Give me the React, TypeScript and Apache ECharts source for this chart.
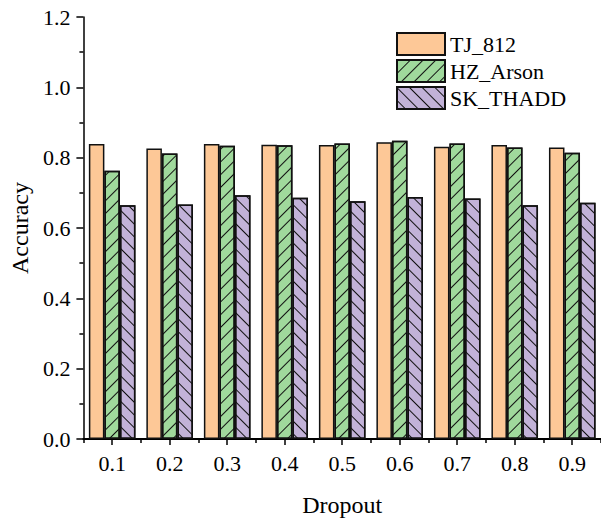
import React, { useEffect, useRef } from "react";
import * as echarts from "echarts";

const categories = ["0.1", "0.2", "0.3", "0.4", "0.5", "0.6", "0.7", "0.8", "0.9"];
const tjValues = [0.839, 0.826, 0.839, 0.837, 0.836, 0.844, 0.831, 0.836, 0.829];
const hzValues = [0.763, 0.812, 0.834, 0.835, 0.840, 0.848, 0.840, 0.829, 0.814];
const skValues = [0.665, 0.667, 0.693, 0.686, 0.676, 0.688, 0.684, 0.665, 0.672];
const seriesNames = ["TJ_812", "HZ_Arson", "SK_THADD"];

const FONT = "Liberation Serif";

export default function App() {
  const ref = useRef<HTMLDivElement>(null);
  useEffect(() => {
    if (!ref.current) return;
    const chart = echarts.init(ref.current, null, { renderer: "svg" });
    const border = { borderColor: "#111", borderWidth: 1.5 };
    chart.setOption({
      animation: false,
      backgroundColor: "#fff",
      textStyle: { fontFamily: FONT, color: "#000" },
      legend: {
        orient: "vertical",
        left: 391,
        top: 27,
        icon: "rect",
        itemWidth: 48,
        itemHeight: 22,
        itemGap: 3,
        textStyle: { fontFamily: FONT, fontSize: 22, color: "#000" },
        data: seriesNames,
      },
      grid: { left: 80, top: 17, width: 523, height: 425, containLabel: false },
      xAxis: [
        {
          type: "category",
          data: categories,
          name: "Dropout",
          nameLocation: "middle",
          nameGap: 54,
          nameTextStyle: { fontFamily: FONT, fontSize: 24, color: "#000" },
          axisLine: { show: true, lineStyle: { color: "#000", width: 2 } },
          axisTick: { show: true, alignWithLabel: true, length: 6, lineStyle: { color: "#000", width: 1.5 } },
          axisLabel: { fontFamily: FONT, fontSize: 22, color: "#000", margin: 13 },
          splitLine: { show: false },
        },
        {
          type: "category",
          data: categories,
          position: "bottom",
          axisLine: { show: false },
          axisTick: { show: true, alignWithLabel: false, length: 4, lineStyle: { color: "#000", width: 1.5 } },
          axisLabel: { show: false },
          splitLine: { show: false },
        },
      ],
      yAxis: {
        type: "value",
        min: 0,
        max: 1.2,
        interval: 0.2,
        name: "Accuracy",
        nameLocation: "middle",
        nameGap: 50,
        nameTextStyle: { fontFamily: FONT, fontSize: 24, color: "#000" },
        axisLine: { show: true, lineStyle: { color: "#000", width: 1.5 } },
        axisTick: { show: true, length: 7, lineStyle: { color: "#000", width: 1.5 } },
        minorTick: { show: true, splitNumber: 2, length: 4, lineStyle: { color: "#000", width: 1.5 } },
        axisLabel: {
          fontFamily: FONT,
          fontSize: 22,
          color: "#000",
          margin: 13,
          formatter: (v: number) => v.toFixed(1),
        },
        splitLine: { show: false },
      },
      series: [
        {
          name: seriesNames[0],
          type: "bar",
          data: tjValues,
          barGap: "0%",
          barCategoryGap: "19%",
          itemStyle: { color: "#FDC897", ...border },
        },
        {
          name: seriesNames[1],
          type: "bar",
          data: hzValues,
          barGap: "0%",
          barCategoryGap: "19%",
          itemStyle: {
            color: "#A0D99C",
            ...border,
            decal: {
              symbol: "rect",
              symbolSize: 1,
              color: "#111",
              dashArrayX: [1, 0],
              dashArrayY: [1, 7.5],
              rotation: -Math.PI / 4,
            },
          },
        },
        {
          name: seriesNames[2],
          type: "bar",
          data: skValues,
          barGap: "0%",
          barCategoryGap: "19%",
          itemStyle: {
            color: "#C2B2D8",
            ...border,
            decal: {
              symbol: "rect",
              symbolSize: 1,
              color: "#111",
              dashArrayX: [1, 0],
              dashArrayY: [1, 7.5],
              rotation: Math.PI / 4,
            },
          },
        },
      ],
    });
    return () => chart.dispose();
  }, []);
  return (
    <div
      ref={ref}
      style={{ position: "fixed", left: 0, top: 0, width: 601, height: 522 }}
    />
  );
}
